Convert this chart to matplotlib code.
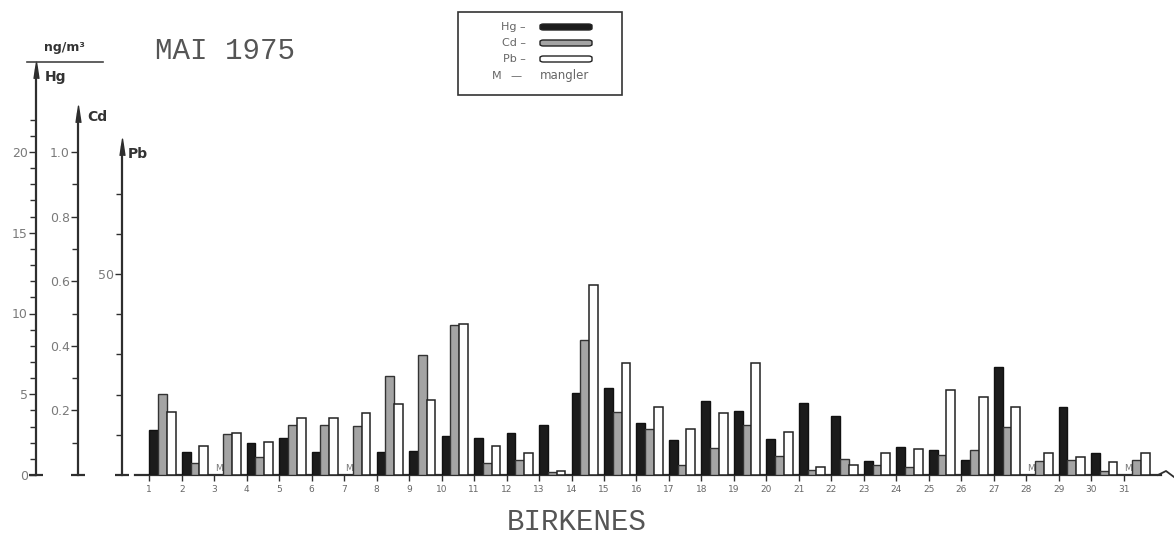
import numpy as np
import matplotlib
matplotlib.use('Agg')
import matplotlib.pyplot as plt
import matplotlib.transforms as mtransforms
from matplotlib.patches import Rectangle, FancyBboxPatch
from matplotlib.lines import Line2D

# daily values, May 1975, Birkenes (None = missing, "M")
days = list(range(1, 32))
hg = [2.8, 1.45, None, 1.96, 2.31, 1.42, None, 1.42, 1.5, 2.41,
      2.27, 2.62, 3.08, 5.1, 5.39, 3.2, 2.17, 4.6, 3.98, 2.25,
      4.48, 3.67, 0.89, 1.75, 1.55, 0.93, 6.67, None, 4.23, 1.38, None]
cd = [0.25, 0.038, 0.128, 0.056, 0.156, 0.155, 0.151, 0.307, 0.372, 0.464,
      0.038, 0.046, 0.01, 0.418, 0.196, 0.142, 0.031, 0.084, 0.156, 0.058,
      0.014, 0.048, 0.031, 0.026, 0.062, 0.077, 0.149, 0.044, 0.046, 0.013, 0.046]
pb = [15.7, 7.3, 10.5, 8.1, 14.3, 14.3, 15.3, 17.6, 18.7, 37.5,
      7.2, 5.4, 1.1, 47.3, 27.9, 17.0, 11.4, 15.3, 27.8, 10.6,
      2.1, 2.5, 5.4, 6.5, 21.1, 19.5, 16.8, 5.5, 4.4, 3.3, 5.4]

hg_ticks = [0, 5, 10, 15, 20]
cd_ticks = [0.2, 0.4, 0.6, 0.8, 1.0]
cd_labels = ['0.2', '0.4', '0.6', '0.8', '1.0']
pb_ticks = [50]

W, H = 1174, 542
def fx(p):
    return p / W
def fy(p):
    return 1 - p / H

ink = '#2e2e2e'
grey_txt = '#6a6a6a'

fig = plt.figure(figsize=(W / 100, H / 100), dpi=100)
fig.patch.set_facecolor('white')

# main axes: left edge = Hg axis line, bottom = baseline
ax_hg = fig.add_axes([fx(36), fy(475), fx(1138), 435 / H])
ax_cd = ax_hg.twinx()
ax_pb = ax_hg.twinx()

ax_hg.set_xlim(-2.488, 32.55)
ax_hg.set_ylim(0, 435 / 16.15)
ax_cd.set_ylim(0, 435 / 323)
ax_pb.set_ylim(0, 435 / 4.02)

w = 0.27
x = np.array(days, dtype=float)
hg_x = [d for d, v in zip(days, hg) if v is not None]
hg_v = [v for v in hg if v is not None]
ax_hg.bar(hg_x, hg_v, width=w, align='edge', color='#1c1c1c', edgecolor='#111111', linewidth=1.0, zorder=3)
ax_cd.bar(x + w, cd, width=w, align='edge', color='#a4a4a4', edgecolor='#333333', linewidth=1.0, zorder=3)
ax_pb.bar(x + 2 * w, pb, width=w, align='edge', color='white', edgecolor='#222222', linewidth=1.1, zorder=3)

# "M" for missing Hg
for d, v in zip(days, hg):
    if v is None:
        ax_hg.text(d + w / 2, 0.15, 'M', ha='center', va='bottom', fontsize=6.5, color='#777777')

# spines
for a in (ax_hg, ax_cd, ax_pb):
    a.patch.set_visible(False)
    for s in ('top', 'right'):
        a.spines[s].set_visible(False)
ax_cd.spines['bottom'].set_visible(False)
ax_pb.spines['bottom'].set_visible(False)

pos = {ax_hg: 0.0, ax_cd: (78 - 36) / 1138, ax_pb: (122 - 36) / 1138}
tops = {ax_hg: 25.1, ax_cd: 1.117, ax_pb: 81.6}
for a in (ax_cd, ax_pb):
    a.spines['left'].set_visible(True)
    a.spines['left'].set_position(('axes', pos[a]))
    a.yaxis.tick_left()
for a in (ax_hg, ax_cd, ax_pb):
    a.spines['left'].set_bounds(0, tops[a])
    a.spines['left'].set_color(ink)
    a.spines['left'].set_linewidth(1.6)
    a.tick_params(axis='y', which='both', direction='out', color=ink, width=1.0,
                  labelsize=9, labelcolor='#7a7a7a', pad=1)
    a.tick_params(axis='y', which='major', length=5)
    a.tick_params(axis='y', which='minor', length=4)

ax_hg.set_yticks(hg_ticks)
ax_hg.set_yticks([t for t in range(1, 23) if t % 5], minor=True)
ax_cd.set_yticks(cd_ticks)
ax_cd.set_yticklabels(cd_labels)
ax_cd.set_yticks([0.1, 0.3, 0.5, 0.7, 0.9], minor=True)
ax_pb.set_yticks(pb_ticks)
ax_pb.set_yticks([10, 20, 30, 40, 60, 70], minor=True)

# arrow heads and feet of the three scales
arrow = [(-1.2, -4), (0, 4), (1.2, -4)]
for a in (ax_hg, ax_cd, ax_pb):
    tr = mtransforms.blended_transform_factory(a.transAxes, a.transData)
    a.plot([pos[a]], [tops[a]], marker=arrow, markersize=12, color=ink,
           transform=tr, clip_on=False, zorder=5)
    a.plot([pos[a] - 0.0062, pos[a] + 0.0065], [0, 0], color=ink, lw=1.6,
           transform=tr, clip_on=False, solid_capstyle='butt')

# x axis
ax_hg.spines['bottom'].set_bounds(0.56, 32.15)
ax_hg.spines['bottom'].set_color(ink)
ax_hg.spines['bottom'].set_linewidth(1.6)
ax_hg.set_xticks(days)
ax_hg.set_xticklabels([str(d) for d in days])
ax_hg.tick_params(axis='x', direction='out', length=4, width=1.0, color=ink,
                  labelsize=6.5, labelcolor='#666666', pad=3)
# small hook at the right end of the baseline
fig.add_artist(Line2D([fx(1158), fx(1166), fx(1174)], [fy(475), fy(471), fy(477)],
                      color=ink, lw=1.3))

# axis names
fig.text(fx(45), fy(77), 'Hg', fontsize=10, color='#333333', va='center', ha='left', fontweight='bold')
fig.text(fx(87), fy(117), 'Cd', fontsize=10, color='#333333', va='center', ha='left', fontweight='bold')
fig.text(fx(128), fy(154), 'Pb', fontsize=10, color='#333333', va='center', ha='left', fontweight='bold')
fig.text(fx(64), fy(48), 'ng/m³', fontsize=9, color='#333333', va='center', ha='center', fontweight='bold')
fig.add_artist(Line2D([fx(27), fx(103)], [fy(62), fy(62)], color='#444444', lw=1.2))

# titles
fig.text(fx(155), fy(51), 'MAI 1975', fontsize=21, family='Liberation Mono',
         color='#555555', va='center', ha='left')
fig.text(fx(577), fy(522), 'BIRKENES', fontsize=21, family='Liberation Mono',
         color='#555555', va='center', ha='center')

# legend box
fig.add_artist(Rectangle((fx(458), fy(95)), fx(164), 83 / H, fill=False,
                         edgecolor='#333333', lw=1.2))
leg = [('Hg –', '#1c1c1c', 27), ('Cd –', '#a4a4a4', 43), ('Pb –', 'white', 59)]
for lab, col, yy in leg:
    fig.text(fx(526), fy(yy), lab, fontsize=8, color='#666666', ha='right', va='center')
    fig.add_artist(FancyBboxPatch((fx(540), fy(yy + 3)), fx(52), 6 / H,
                                  boxstyle='round,pad=0,rounding_size=0.003',
                                  facecolor=col, edgecolor='#222222', lw=1.0))
fig.text(fx(497), fy(76), 'M', fontsize=8, color='#666666', ha='center', va='center')
fig.text(fx(516), fy(76), '—', fontsize=8, color='#666666', ha='center', va='center')
fig.text(fx(540), fy(76), 'mangler', fontsize=8.5, color='#666666', ha='left', va='center')

fig.savefig('out.png', dpi=100)
